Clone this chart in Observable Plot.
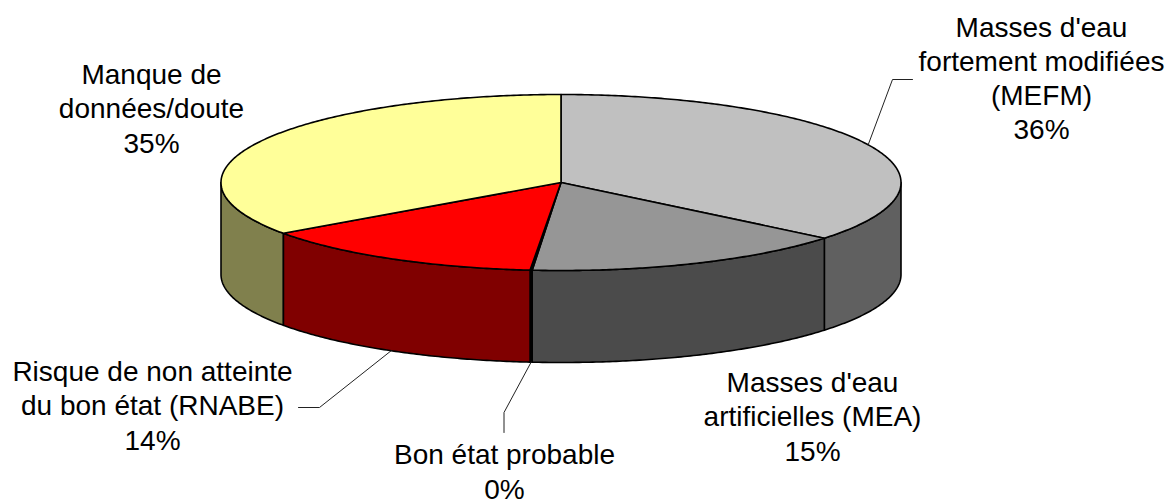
<!DOCTYPE html>
<html><head><meta charset="utf-8">
<script src="https://cdn.jsdelivr.net/npm/d3@7"></script>
<script src="https://cdn.jsdelivr.net/npm/@observablehq/plot@0.6"></script>
<style>html,body{margin:0;padding:0;background:#fff}svg{display:block}</style>
</head><body><div id="chart"></div>
<script>
const categories = ["MEFM", "MEA", "Bon état", "RNABE", "Manque"];
const shares = [35.9, 15.45, 0.1, 13.75, 34.8];
const topColors = ["#C0C0C0", "#969696", "#000000", "#FF0000", "#FFFF99"];
const sideColors = ["#606060", "#4B4B4B", "#000000", "#800000", "#80804D"];
const labelTexts = [
  "Masses d'eau\nfortement modifiées\n(MEFM)\n36%",
  "Masses d'eau\nartificielles (MEA)\n15%",
  "Bon état probable\n0%",
  "Risque de non atteinte\ndu bon état (RNABE)\n14%",
  "Manque de\ndonnées/doute\n35%"
];

// layout
const W = 1167, H = 500;
const cx = 560.5, cy = 182, rx = 340, ry = 88, depth = 92;
const labelPos = [[1041, 76.5], [812, 415], [504, 470], [152, 404], [151, 107]];
const LH = 34.2, FS = 28;

const total = d3.sum(shares);
const ang = p => (p / total) * 2 * Math.PI;
const rim = (t, dz = 0) => ({x: cx + rx * Math.sin(t), y: cy - ry * Math.cos(t) + dz});
const arc = (a, b, dz) => {
  const n = Math.max(2, Math.ceil(Math.abs(b - a) / 0.01));
  return d3.range(n + 1).map(i => rim(a + (b - a) * i / n, dz));
};
const cum = d3.cumsum(shares);
const slices = categories.map((c, i) => ({
  c, i, a: ang(i ? cum[i - 1] : 0), b: ang(cum[i])
}));

// side walls: only the front half of the disc is visible
const faces = [];
const addFace = (id, pts, color) => pts.forEach(p => faces.push({...p, id, color}));
const sideOrder = [4, 0, 1, 2, 3];
sideOrder.forEach(i => {
  const s = slices[i];
  const a = Math.max(s.a, Math.PI / 2), b = Math.min(s.b, 3 * Math.PI / 2);
  if (b <= a) return;
  addFace("side" + i, [...arc(a, b, 0), ...arc(b, a, depth), rim(a, 0)], sideColors[i]);
});
slices.forEach(s => {
  addFace("top" + s.i, [{x: cx, y: cy}, ...arc(s.a, s.b, 0), {x: cx, y: cy}], topColors[s.i]);
});

const mid = s => (s.a + s.b) / 2;
const leaders = [
  [rim(mid(slices[0])), {x: 892, y: 79}, {x: 912, y: 79}],
  [rim(mid(slices[2]), depth), {x: 503.5, y: 412}, {x: 503.5, y: 432}],
  [rim(mid(slices[3]), depth), {x: 319, y: 407}, {x: 298, y: 407}]
].flatMap((pts, k) => pts.map(p => ({...p, k})));

const labels = labelTexts.map((t, i) => ({t, x: labelPos[i][0], y: labelPos[i][1]}));

const chart = Plot.plot({
  width: W, height: H,
  margin: 0,
  x: {domain: [0, W], range: [0, W], axis: null},
  y: {domain: [0, H], range: [0, H], axis: null},
  style: {background: "#fff"},
  marks: [
    Plot.line(faces, {x: "x", y: "y", z: "id", fill: "color", stroke: "#000", strokeWidth: 1.6, strokeLinejoin: "round", curve: "linear"}),
    Plot.line(leaders, {x: "x", y: "y", z: "k", stroke: "#222", strokeWidth: 1, curve: "linear"}),
    Plot.text(labels, {x: "x", y: "y", text: "t", textAnchor: "middle", lineAnchor: "middle", lineHeight: LH / FS,
      fontFamily: "Liberation Sans", fontSize: FS, fill: "#000"})
  ]
});
document.getElementById("chart").appendChild(chart);
</script></body></html>
